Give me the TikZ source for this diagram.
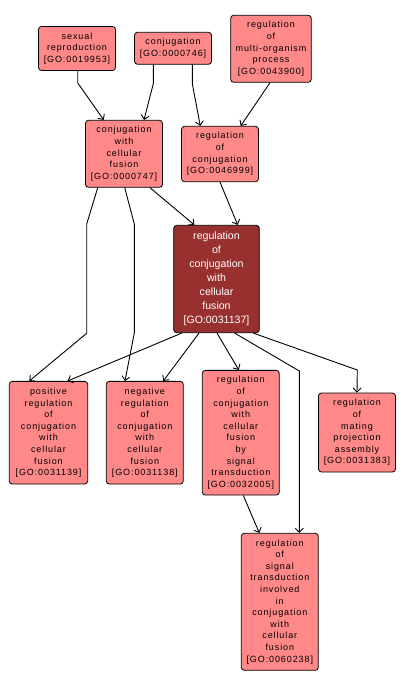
\documentclass[tikz,border=0pt]{standalone}
\usepackage{fontspec}
\setmainfont{Liberation Sans}
\newfontfamily\gofont[LetterSpace=10]{Liberation Sans}
\usetikzlibrary{arrows.meta}
\definecolor{termfill}{RGB}{255,136,136}
\definecolor{focusfill}{RGB}{153,48,48}

\tikzstyle{line} = [draw, line width=0.9pt, -{Straight Barb[length=4pt,width=8pt]}]
\tikzstyle{term} = [draw, line width=0.8pt, fill=termfill, rounded corners=3pt, inner sep=0pt, minimum width=77pt, align=center, font=\gofont\fontsize{9}{11.6}\selectfont]
\tikzstyle{focus} = [term, fill=focusfill, text=white, font=\fontsize{10.6}{14}\selectfont]

\begin{document}
\begin{tikzpicture}[x=1pt,y=-1pt]
	\useasboundingbox (0,0) rectangle (406,688);
	
	% top row
	\node[term, minimum height=44pt] (sr) at (77,48.5) {sexual\\reproduction\\{[GO:0019953]}};
	\node[term, minimum height=32pt] (conj) at (173,48.3) {conjugation\\{[GO:0000746]}};
	\node[term, minimum width=80.6pt, minimum height=67pt] (rmop) at (271,48.8) {regulation\\of\\multi-organism\\process\\{[GO:0043900]}};
	
	% second row
	\node[term, minimum height=67pt] (cwcf) at (124,153.8) {conjugation\\with\\cellular\\fusion\\{[GO:0000747]}};
	\node[term, minimum height=55.4pt] (rconj) at (220,154) {regulation\\of\\conjugation\\{[GO:0046999]}};
	
	% the term itself
	\node[focus, minimum width=85.6pt, minimum height=107.4pt] (rcwcf) at (216.5,279) {regulation\\of\\conjugation\\with\\cellular\\fusion\\{[GO:0031137]}};
	
	% children
	\node[term, minimum width=78.4pt, minimum height=102.7pt] (pos) at (48.5,432.7) {positive\\regulation\\of\\conjugation\\with\\cellular\\fusion\\{[GO:0031139]}};
	\node[term, minimum height=102.7pt] (neg) at (144.8,432.7) {negative\\regulation\\of\\conjugation\\with\\cellular\\fusion\\{[GO:0031138]}};
	\node[term, minimum height=124.7pt] (sig) at (240.8,432.7) {regulation\\of\\conjugation\\with\\cellular\\fusion\\by\\signal\\transduction\\{[GO:0032005]}};
	\node[term, minimum height=79pt] (mpa) at (357,432.5) {regulation\\of\\mating\\projection\\assembly\\{[GO:0031383]}};
	\node[term, minimum height=137pt] (rsti) at (279.8,601.8) {regulation\\of\\signal\\transduction\\involved\\in\\conjugation\\with\\cellular\\fusion\\{[GO:0060238]}};
	
	% edges
	\draw[line] ([xshift=0.7pt]sr.south) -- ++(0,12) -- ([xshift=-20.3pt]cwcf.north);
	\draw[line] ([xshift=-19.7pt]conj.south) -- ++(0,19) -- ([xshift=20pt]cwcf.north);
	\draw[line] ([xshift=19.3pt]conj.south) -- ++(0,19) -- ([xshift=-19.7pt]rconj.north);
	\draw[line] ([xshift=-1pt]rmop.south) -- ([xshift=20.7pt]rconj.north);
	
	\draw[line] ([xshift=26pt]cwcf.south) -- ([xshift=-22.2pt]rcwcf.north);
	\draw[line] (rconj.south) -- ([xshift=21.2pt]rcwcf.north);
	
	\draw[line] ([xshift=-26.3pt]cwcf.south) -- (86.7,224) -- (86.7,333.3) -- ([xshift=-19.2pt]pos.north);
	\draw[line] ([xshift=0.7pt]cwcf.south) -- (134.3,224) -- (134.3,333) -- ([xshift=-19.8pt]neg.north);
	
	\draw[line] ([xshift=-34.8pt]rcwcf.south) -- ([xshift=19.2pt]pos.north);
	\draw[line] ([xshift=-17.5pt]rcwcf.south) -- ([xshift=18.5pt]neg.north);
	\draw[line] ([xshift=0.5pt]rcwcf.south) -- ([xshift=-2pt]sig.north);
	\draw[line] ([xshift=18.2pt]rcwcf.south) -- (299.3,371) -- ([xshift=19.5pt]rsti.north);
	\draw[line] ([xshift=36.8pt]rcwcf.south) -- (357.3,370) -- (mpa.north);
	
	\draw[line] ([xshift=2.5pt]sig.south) -- ([xshift=-20.5pt]rsti.north);
	
\end{tikzpicture}
\end{document}
